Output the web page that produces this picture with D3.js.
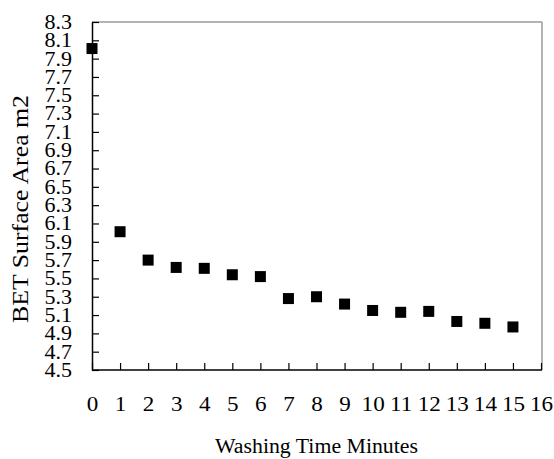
<!DOCTYPE html>
<html>
<head>
<meta charset="utf-8">
<script src="https://cdn.jsdelivr.net/npm/d3@7"></script>
<style>
  html, body { margin: 0; padding: 0; background: #fff; }
  svg { display: block; }
  text { font-family: "Liberation Serif", "Times New Roman", serif; fill: #000; }
</style>
</head>
<body>
<script>
// ---- data ----
const washingTimes = [0, 1, 2, 3, 4, 5, 6, 7, 8, 9, 10, 11, 12, 13, 14, 15];
const betArea = [8.01, 6.01, 5.70, 5.62, 5.61, 5.54, 5.52, 5.28, 5.30, 5.22, 5.15, 5.13, 5.14, 5.03, 5.01, 4.97];
const xTickValues = [0, 1, 2, 3, 4, 5, 6, 7, 8, 9, 10, 11, 12, 13, 14, 15, 16];
const yTickValues = [4.5, 4.7, 4.9, 5.1, 5.3, 5.5, 5.7, 5.9, 6.1, 6.3, 6.5, 6.7, 6.9, 7.1, 7.3, 7.5, 7.7, 7.9, 8.1, 8.3];
const xTitle = "Washing Time Minutes";
const yTitle = "BET Surface Area m2";

(function () {
  // ---- layout ----
  const W = 554, H = 459;
  const pLeft = 92, pRight = 541, pTop = 22, pBottom = 370;
  const stretch = 1.1;

  const svg = d3.select("body").append("svg").attr("width", W).attr("height", H);

  const x = d3.scaleLinear().domain([0, 16]).range([pLeft, pRight]);
  const y = d3.scaleLinear().domain([4.5, 8.3]).range([pBottom, pTop]);

  // frame (top and right, gray)
  svg.append("line").attr("x1", pLeft).attr("x2", pRight + 1).attr("y1", pTop).attr("y2", pTop)
    .attr("stroke", "#9a9a9a").attr("stroke-width", 1.5);
  svg.append("line").attr("x1", pRight + 1).attr("x2", pRight + 1).attr("y1", pTop).attr("y2", pBottom)
    .attr("stroke", "#9a9a9a").attr("stroke-width", 1.5);

  // x axis
  const xAxis = d3.axisBottom(x).tickValues(xTickValues).tickFormat(d3.format("d"))
    .tickSizeInner(-7).tickSizeOuter(0).tickPadding(26);
  const gx = svg.append("g").attr("transform", `translate(0,${pBottom})`).call(xAxis);
  gx.select(".domain").attr("stroke", "#000").attr("stroke-width", 1.5).attr("d", `M${pLeft},0H${pRight + 1}`);
  gx.selectAll(".tick line").attr("stroke", "#000").attr("stroke-width", 1.2);
  gx.selectAll(".tick text").attr("font-size", 21).attr("font-family", "Liberation Serif, serif")
    .attr("fill", "#000").attr("transform", `scale(${stretch},1)`);

  // y axis
  const yAxis = d3.axisLeft(y).tickValues(yTickValues).tickFormat(d3.format(".1f"))
    .tickSizeInner(-7).tickSizeOuter(0).tickPadding(20);
  const gy = svg.append("g").attr("transform", `translate(${pLeft},0)`).call(yAxis);
  gy.select(".domain").attr("stroke", "#000").attr("stroke-width", 1.5);
  gy.selectAll(".tick line").attr("stroke", "#000").attr("stroke-width", 1.2);
  gy.selectAll(".tick text").attr("font-size", 20).attr("font-family", "Liberation Serif, serif")
    .attr("fill", "#000").attr("x", -20 / stretch).attr("transform", `scale(${stretch},1)`);

  // markers
  const ms = 11;
  svg.append("g").selectAll("rect").data(washingTimes).join("rect")
    .attr("x", (d) => x(d) - ms / 2)
    .attr("y", (d, i) => y(betArea[i]) - ms / 2)
    .attr("width", ms).attr("height", ms)
    .attr("fill", "#000");

  // titles
  svg.append("text").attr("x", 316.5).attr("y", 453).attr("text-anchor", "middle")
    .attr("font-size", 20).attr("textLength", 203).attr("lengthAdjust", "spacingAndGlyphs")
    .text(xTitle);
  svg.append("text").attr("transform", "translate(28,209) rotate(-90)").attr("text-anchor", "middle")
    .attr("font-size", 23).attr("textLength", 228).attr("lengthAdjust", "spacingAndGlyphs")
    .text(yTitle);
})();
</script>
</body>
</html>
